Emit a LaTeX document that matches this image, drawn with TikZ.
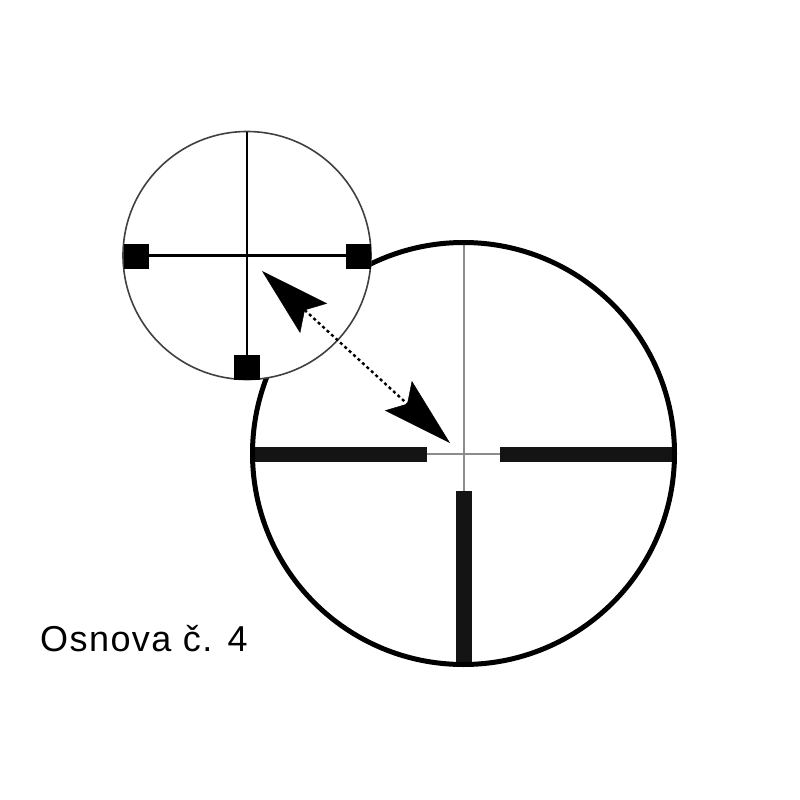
\documentclass[tikz,border=0pt]{standalone}
\usepackage{fontspec}
\setmainfont{Liberation Sans}[LetterSpace=4]
\usetikzlibrary{arrows.meta}
\begin{document}
\begin{tikzpicture}[x=1pt,y=-1pt,
  thickring/.style={draw=black,line width=5pt},
  thinring/.style={draw=black!75,line width=1.6pt,fill=white},
  hair/.style={draw=black!45,line width=2pt},
  bar/.style={fill=black!92},
  fine/.style={draw=black,line width=2.4pt},
  sqmark/.style={fill=black},
  dblarrow/.style={>={Stealth[length=70pt,width=40pt,inset=12pt,line width=0.5pt]},<->,
    line width=2.4pt,dash pattern=on 3pt off 3pt},
  lbl/.style={font=\fontsize{36}{40}\selectfont,anchor=base west,inner sep=0pt}]
\useasboundingbox (0,0) rectangle (800,800);
% big reticle
\coordinate (C) at (463.5,453.5);
\draw[hair] (463.5,244) -- (463.5,492);
\draw[hair] (426,454) -- (501,454);
\fill[bar] (252,446.5) rectangle (427,462);
\fill[bar] (500,446.5) rectangle (675,462);
\fill[bar] (455.5,491) rectangle (471.5,664);
\draw[thickring] (C) circle[radius=211];
% small reticle
\coordinate (S) at (247,255.5);
\draw[thinring] (S) circle[radius=124];
\draw[fine] (124,255.5) -- (370,255.5);
\draw[fine] (247,131.5) -- (247,379.5);
\fill[sqmark] (124,243.5) rectangle (148.5,268.5);
\fill[sqmark] (346,243.5) rectangle (370.5,268.5);
\fill[sqmark] (234,355) rectangle (260,380);
% arrow
\coordinate (a1) at (262,271);
\coordinate (a2) at (450,443);
\draw[dblarrow] (a1) -- (a2);
\node[lbl] (t) at (40,651) {Osnova č. 4};
\end{tikzpicture}
\end{document}
